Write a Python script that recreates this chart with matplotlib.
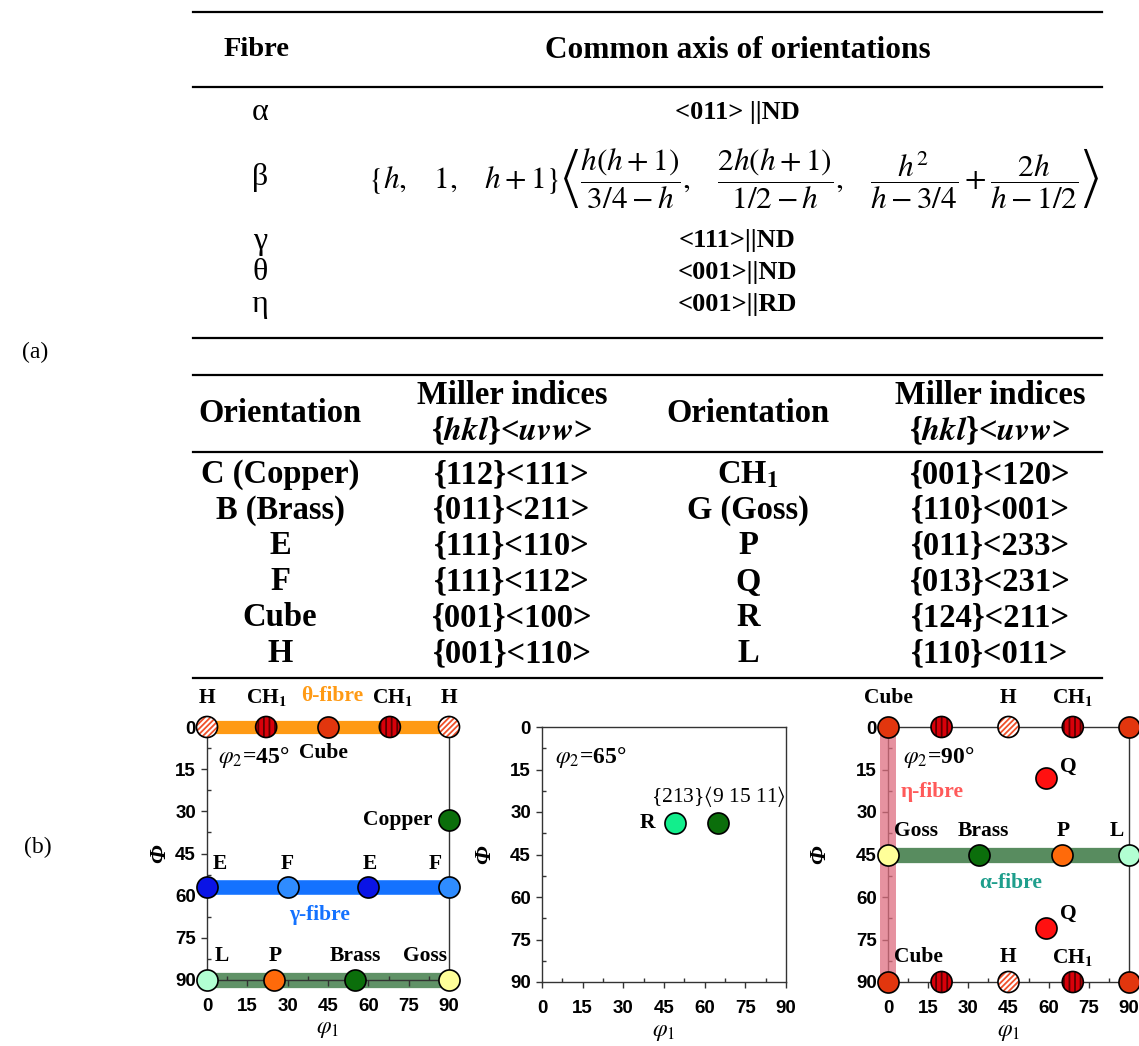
import matplotlib
matplotlib.use("Agg")
import matplotlib.pyplot as plt
from matplotlib.lines import Line2D

W, H = 1139, 1046

plt.rcParams["font.family"] = ["Liberation Serif", "DejaVu Serif"]
plt.rcParams["mathtext.fontset"] = "stix"
plt.rcParams["hatch.linewidth"] = 1.3

# ---- (a) tables ----
fibre_names = ["α", "β", "γ", "θ", "η"]
fibre_axes = [
    "<011> ||ND",
    r"$\{h,\quad 1,\quad h+1\}\left\langle\dfrac{h(h+1)}{3/4-h},\quad"
    r"\dfrac{2h(h+1)}{1/2-h},\quad\dfrac{h^2}{h-3/4}+\dfrac{2h}{h-1/2}\right\rangle$",
    "<111>||ND",
    "<001>||ND",
    "<001>||RD",
]

orient_left = ["C (Copper)", "B (Brass)", "E", "F", "Cube", "H"]
miller_left = ["{112}<111>", "{011}<211>", "{111}<110>", "{111}<112>", "{001}<100>", "{001}<110>"]
orient_right = [r"CH$_\mathbf{1}$", "G (Goss)", "P", "Q", "R", "L"]
miller_right = ["{001}<120>", "{110}<001>", "{011}<233>", "{013}<231>", "{124}<211>", "{110}<011>"]

# ---- (b) Euler space sections: name, phi1, Phi ----
p45_name = ["H", "CH1", "Cube", "CH1", "H", "Copper", "E", "F", "E", "F", "L", "P", "Brass", "Goss"]
p45_phi1 = [0, 22, 45, 68, 90, 90, 0, 30, 60, 90, 0, 25, 55, 90]
p45_Phi = [0, 0, 0, 0, 0, 33, 57, 57, 57, 57, 90, 90, 90, 90]

p65_name = ["R", "213"]
p65_phi1 = [49, 65]
p65_Phi = [34, 34]

p90_name = ["Cube", "CH1", "H", "CH1", "Cube", "Cube", "CH1", "H", "CH1", "Cube",
            "Q", "Q", "Goss", "Brass", "P", "L"]
p90_phi1 = [0, 20, 45, 69, 90, 0, 20, 45, 69, 90, 59, 59, 0, 34, 65, 90]
p90_Phi = [0, 0, 0, 0, 0, 90, 90, 90, 90, 90, 18, 71, 45, 45, 45, 45]

# fibre bands: ([phi1 start, end], [Phi start, end])
theta_fibre = ([0, 90], [0, 0])
gamma_fibre = ([0, 90], [57, 57])
alpha45_fibre = ([0, 90], [90, 90])
alpha90_fibre = ([0, 90], [45, 45])
eta_fibre = ([0, 0], [0, 90])

MARKER = {
    "Cube": dict(fc="#E2360E"),
    "CH1": dict(fc="#D8000A", hatch="|||", hc="#5A0000"),
    "H": dict(fc="white", hatch="//////", hc="#F0502A"),
    "Copper": dict(fc="#0B6E0B"),
    "Brass": dict(fc="#0B6E0B"),
    "213": dict(fc="#0B6E0B"),
    "E": dict(fc="#0A14E6"),
    "F": dict(fc="#2F8CFF"),
    "L": dict(fc="#B2FFD2"),
    "P": dict(fc="#FF6A0A"),
    "Goss": dict(fc="#FFFF99"),
    "Q": dict(fc="#FF1010"),
    "R": dict(fc="#12EE8C"),
}

fig = plt.figure(figsize=(W / 100, H / 100), dpi=100)


def fx(px):
    return px / W


def fy(py):
    return 1 - py / H


def hline(x0, x1, py, lw=1.6):
    fig.add_artist(Line2D([fx(x0), fx(x1)], [fy(py), fy(py)], color="black", lw=lw))


def ftext(px, py, s, size=20, weight="bold", **kw):
    fig.text(fx(px), fy(py), s, size=size, weight=weight, ha="center", va="center", **kw)


# table 1
for py in (12, 87, 338):
    hline(193, 1102, py)
ftext(257, 50, "Fibre", size=20.5)
ftext(738, 50, "Common axis of orientations", size=22.5)
row_y1 = [112, 178, 241, 273, 304]
for name, val, py in zip(fibre_names, fibre_axes, row_y1):
    ftext(260, py, name, weight="normal", size=23)
    if val.startswith("$"):
        ftext(734, py, val, size=22.5, weight="normal")
    else:
        ftext(737, py, val, size=19)

ftext(35, 352, "(a)", size=17, weight="normal")
ftext(38, 847, "(b)", size=17, weight="normal")

# table 2
for py in (375, 452, 678):
    hline(193, 1102, py)
hkl = r"{$\mathbfit{hkl}$}<$\mathbfit{uvw}$>"
TS = 23.5
for cx in (280, 748):
    ftext(cx, 413, "Orientation", size=TS)
for cx in (512, 990):
    ftext(cx, 396, "Miller indices", size=TS)
    ftext(cx, 431, hkl, size=TS)
row_y2 = [475, 510, 546, 582, 618, 654]
for i, py in enumerate(row_y2):
    ftext(280, py, orient_left[i], size=TS)
    ftext(512, py, miller_left[i], size=TS)
    ftext(748, py, orient_right[i], size=TS)
    ftext(990, py, miller_right[i], size=TS)


# ---- (b) plots ----
def make_axes(left, right, top, bottom):
    ax = fig.add_axes([fx(left), fy(bottom), (right - left) / W, (bottom - top) / H])
    ax.set_xlim(0, 90)
    ax.set_ylim(90, 0)
    ax.set_xticks(range(0, 91, 15))
    ax.set_yticks(range(0, 91, 15))
    ax.set_xticks([7.5 + 15 * i for i in range(6)], minor=True)
    ax.set_yticks([7.5 + 15 * i for i in range(6)], minor=True)
    ax.tick_params(which="major", direction="out", length=4, width=1, color="#333333")
    ax.tick_params(which="minor", direction="in", length=3, width=1, color="#333333")
    ax.tick_params(axis="x", which="major", pad=9)
    ax.tick_params(axis="y", which="major", pad=4)
    for lab in ax.get_xticklabels() + ax.get_yticklabels():
        lab.set_fontfamily("Liberation Sans")
        lab.set_fontweight("bold")
        lab.set_fontsize(13.5)
    for sp in ax.spines.values():
        sp.set_color("#333333")
        sp.set_linewidth(1)
    ax.set_xlabel(r"$\varphi_{\mathit{1}}$", size=17)
    ax.set_ylabel("Φ", size=17, style="italic", weight="bold", rotation=90)
    ax.xaxis.set_label_coords(0.5, -0.155)
    return ax


def band(ax, fibre, color, lw, alpha=1.0, z=2):
    ax.plot(fibre[0], fibre[1], color=color, lw=lw, alpha=alpha, solid_capstyle="butt",
            zorder=z, clip_on=False)


def markers(ax, names, phi1, Phi):
    for n, x, y in zip(names, phi1, Phi):
        st = MARKER[n]
        if "hatch" in st:
            ax.scatter([x], [y], s=230, facecolor=st["fc"], edgecolor=st["hc"], hatch=st["hatch"],
                       linewidths=0, zorder=5, clip_on=False)
            ax.scatter([x], [y], s=230, facecolor="none", edgecolor="black", linewidths=1.2,
                       zorder=6, clip_on=False)
        else:
            ax.scatter([x], [y], s=230, facecolor=st["fc"], edgecolor="black", linewidths=1.2,
                       zorder=5, clip_on=False)


def label(ax, s, x, y, dx=0, dy=21, ha="center", size=15.5, color="black", **kw):
    ax.annotate(s, (x, y), xytext=(dx, dy), textcoords="offset points", ha=ha, va="center",
                size=size, weight="bold", color=color, annotation_clip=False, zorder=7, **kw)


def note(ax, x, y, s, color="black", size=15.5, ha="center"):
    ax.text(x, y, s, color=color, size=size, weight="bold", ha=ha, va="center", clip_on=False)


CH1 = r"CH$_\mathbf{1}$"

# phi2 = 45
ax1 = make_axes(207, 449, 727, 980)
ax1.spines["top"].set_visible(False)
ax1.yaxis.set_label_coords(-0.153, 0.5)
band(ax1, theta_fibre, "#FF9A14", 9.5, z=3)
band(ax1, gamma_fibre, "#1472FF", 10.5)
band(ax1, alpha45_fibre, "#4F8656", 11, alpha=0.9, z=1)
markers(ax1, p45_name, p45_phi1, p45_Phi)
label(ax1, "H", 0, 0)
label(ax1, CH1, 22, 0)
label(ax1, CH1, 68, 0, dx=2)
label(ax1, "H", 90, 0)
note(ax1, 46.5, -11, "θ-fibre", color="#FF9A14")
label(ax1, "Cube", 45, 0, dx=-3, dy=-19)
note(ax1, 4, 10.7, r"$\varphi_{\mathit{2}}$=45°", size=17, ha="left")
label(ax1, "Copper", 90, 33, dx=-12, dy=0, ha="right")
label(ax1, "E", 0, 57, dx=9, dy=17)
label(ax1, "F", 30, 57, dy=17)
label(ax1, "E", 60, 57, dx=1, dy=17)
label(ax1, "F", 90, 57, dx=-10, dy=17)
note(ax1, 42, 67, "γ-fibre", color="#1472FF")
label(ax1, "L", 0, 90, dx=11, dy=17)
label(ax1, "P", 25, 90, dx=1, dy=17)
label(ax1, "Brass", 55, 90, dy=17)
label(ax1, "Goss", 90, 90, dx=-17, dy=17)

# phi2 = 65
ax2 = make_axes(542, 786, 727, 982)
ax2.yaxis.set_label_coords(-0.193, 0.5)
markers(ax2, p65_name, p65_phi1, p65_Phi)
note(ax2, 4.8, 10.6, r"$\varphi_{\mathit{2}}$=65°", size=17, ha="left")
label(ax2, "R", p65_phi1[0], p65_Phi[0], dx=-14, dy=0, ha="right")
ax2.annotate(r"{213}$\langle$9 15 11$\rangle$", (p65_phi1[1], p65_Phi[1]), xytext=(0, 19),
             textcoords="offset points", ha="center", va="center", size=15.5)

# phi2 = 90
ax3 = make_axes(888, 1129, 727, 982)
ax3.yaxis.set_label_coords(-0.24, 0.5)
band(ax3, eta_fibre, "#DE6E80", 11.5, alpha=0.75, z=3)
band(ax3, alpha90_fibre, "#4F8656", 11, alpha=0.95)
markers(ax3, p90_name, p90_phi1, p90_Phi)
label(ax3, "Cube", 0, 0)
label(ax3, "H", 45, 0)
label(ax3, CH1, 69, 0)
label(ax3, "Cube", 0, 90, dx=22, dy=18)
label(ax3, "H", 45, 90, dy=18)
label(ax3, CH1, 69, 90, dy=18)
label(ax3, "Q", 59, 18, dx=16, dy=8)
label(ax3, "Q", 59, 71, dx=16, dy=10)
label(ax3, "Goss", 0, 45, dx=20, dy=17)
label(ax3, "Brass", 34, 45, dx=3, dy=17)
label(ax3, "P", 65, 45, dx=1, dy=17)
label(ax3, "L", 90, 45, dx=-9, dy=17)
note(ax3, 46, 55, "α-fibre", color="#1E9E8C")
note(ax3, 16.5, 23, "η-fibre", color="#FF5A5A")
note(ax3, 5.6, 10.6, r"$\varphi_{\mathit{2}}$=90°", size=17, ha="left")

fig.savefig("out.png", dpi=100)
